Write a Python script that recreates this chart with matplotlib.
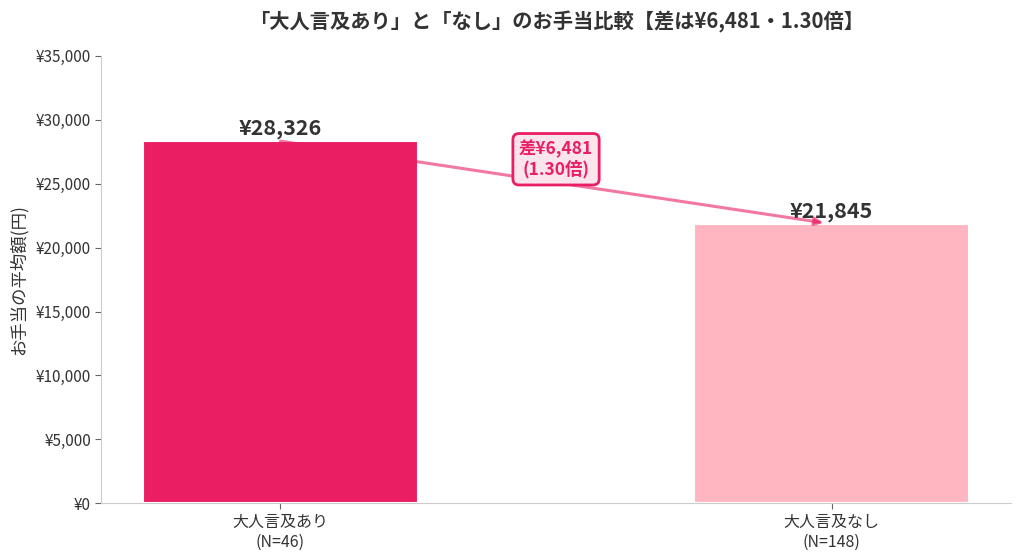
import matplotlib
matplotlib.use('Agg')
import matplotlib.pyplot as plt

plt.rcParams['font.family'] = ['Noto Sans CJK JP', 'DejaVu Sans']

# データ
categories = ['大人言及あり', '大人言及なし']
counts = [46, 148]
values = [28326, 21845]
colors = ['#E91E63', '#FFB6C1']
yticks = [0, 5000, 10000, 15000, 20000, 25000, 30000, 35000]

diff = values[0] - values[1]
ratio = values[0] / values[1]

fig, ax = plt.subplots(figsize=(10.24, 5.58), dpi=100)

x = range(len(categories))
ax.bar(x, values, width=0.5, color=colors, edgecolor='white', linewidth=1.5)

# 値ラベル
for i, v in enumerate(values):
    ax.annotate(f'¥{v:,}', xy=(i, v), xytext=(0, 1.5), textcoords='offset points',
                ha='center', va='bottom', fontsize=15.5, fontweight='bold', color='#333333')

# 差の矢印
ax.annotate('', xy=(1, values[1]), xytext=(0, values[0]),
            arrowprops=dict(arrowstyle='-|>', color='#E91E63', alpha=0.6, lw=2.2,
                            mutation_scale=12, shrinkA=0, shrinkB=6))
ax.text(0.5, values[0] * 0.95, f'差¥{diff:,}\n({ratio:.2f}倍)', ha='center', va='center',
        fontsize=12.5, fontweight='bold', color='#E91E63', linespacing=1.15,
        bbox=dict(boxstyle='round,pad=0.35', facecolor='#FCE4EC', edgecolor='#E91E63', linewidth=2))

ax.set_xticks(list(x))
ax.set_xticklabels([f'{c}\n(N={n})' for c, n in zip(categories, counts)], fontsize=11.5, color='#333333')
ax.set_yticks(yticks)
ax.set_yticklabels([f'¥{t:,}' for t in yticks], fontsize=11, color='#333333')
ax.set_ylim(0, 35000)
ax.set_ylabel('お手当の平均額(円)', fontsize=12.5, color='#333333', labelpad=6)
ax.set_title(f'「大人言及あり」と「なし」のお手当比較【差は¥{diff:,}・{ratio:.2f}倍】',
             fontsize=14.6, fontweight='bold', color='#333333', pad=20)

for s in ['top', 'right']:
    ax.spines[s].set_visible(False)
for s in ['left', 'bottom']:
    ax.spines[s].set_color('#CCCCCC')
ax.tick_params(color='#666666', labelcolor='#333333', length=4)

plt.subplots_adjust(left=0.099, right=0.987, top=0.9, bottom=0.098)
plt.savefig('out.png', dpi=100)
